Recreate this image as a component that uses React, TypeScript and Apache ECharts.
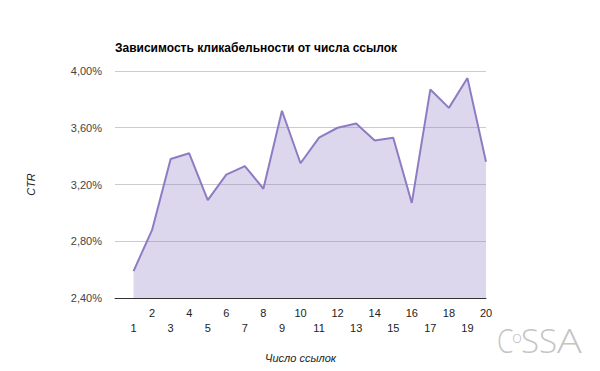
import React, { useEffect, useRef } from "react";
import * as echarts from "echarts";

const title = "Зависимость кликабельности от числа ссылок";
const xName = "Число ссылок";
const yName = "CTR";
const linkCounts = [1, 2, 3, 4, 5, 6, 7, 8, 9, 10, 11, 12, 13, 14, 15, 16, 17, 18, 19, 20];
const ctrValues = [2.59, 2.88, 3.38, 3.42, 3.09, 3.27, 3.33, 3.17, 3.72, 3.35, 3.53, 3.6, 3.63, 3.51, 3.53, 3.07, 3.87, 3.74, 3.95, 3.36];

const logoFill = "#c4c4c4";
const logoFont = "Open Sans";

export default function App() {
  const ref = useRef<HTMLDivElement>(null);
  useEffect(() => {
    if (!ref.current) return;
    const chart = echarts.init(ref.current, null, { renderer: "svg" });
    const letter = (text: string, x: number, size: number, y: number, sx = 1) => ({
      type: "text",
      x,
      y,
      scaleX: sx,
      style: {
        text,
        fontSize: size,
        fontFamily: logoFont,
        fontWeight: 300,
        fill: logoFill,
        verticalAlign: "middle",
        align: "left",
      },
    });
    chart.setOption({
      animation: false,
      backgroundColor: "#ffffff",
      textStyle: { fontFamily: "Liberation Sans, Arial, sans-serif" },
      title: {
        text: title,
        left: 110,
        top: 37,
        textStyle: { fontSize: 12, fontWeight: "bold", color: "#000" },
      },
      grid: { left: 115, right: 114, top: 71, bottom: 73 },
      xAxis: {
        type: "value",
        min: 0,
        max: 20,
        interval: 1,
        name: xName,
        nameLocation: "middle",
        nameGap: 54,
        nameTextStyle: { fontStyle: "italic", fontSize: 11, color: "#222" },
        axisLine: { show: true, lineStyle: { color: "#333", width: 1 } },
        axisTick: { show: false },
        splitLine: { show: false },
        axisLabel: {
          margin: 7,
          fontSize: 11,
          color: "#222",
          lineHeight: 15,
          formatter: (v: number) => (v === 0 ? "" : v % 2 === 0 ? String(v) : "\n" + v),
        },
      },
      yAxis: {
        type: "value",
        min: 2.4,
        max: 4.0,
        interval: 0.4,
        name: yName,
        nameLocation: "middle",
        nameGap: 79,
        nameTextStyle: { fontStyle: "italic", fontSize: 11, color: "#222" },
        axisLine: { show: false },
        axisTick: { show: false },
        splitLine: { lineStyle: { color: "#cccccc", width: 1 } },
        axisLabel: {
          margin: 13,
          fontSize: 11,
          color: "#444",
          formatter: (v: number) => v.toFixed(2).replace(".", ",") + "%",
        },
      },
      series: [
        {
          type: "line",
          data: linkCounts.map((x, i) => [x, ctrValues[i]]),
          symbol: "none",
          lineStyle: { color: "#8e7cc3", width: 2 },
          areaStyle: { color: "#8e7cc3", opacity: 0.3 },
        },
      ],
      graphic: [
        letter("C", 497, 33, 340, 0.8),
        letter("o", 512, 17, 336),
        letter("S", 521, 33, 340),
        letter("S", 539, 33, 340),
        letter("A", 557, 33, 340, 1.25),
      ],
    });
    return () => chart.dispose();
  }, []);
  return <div ref={ref} style={{ width: 600, height: 371, margin: -8 }} />;
}
